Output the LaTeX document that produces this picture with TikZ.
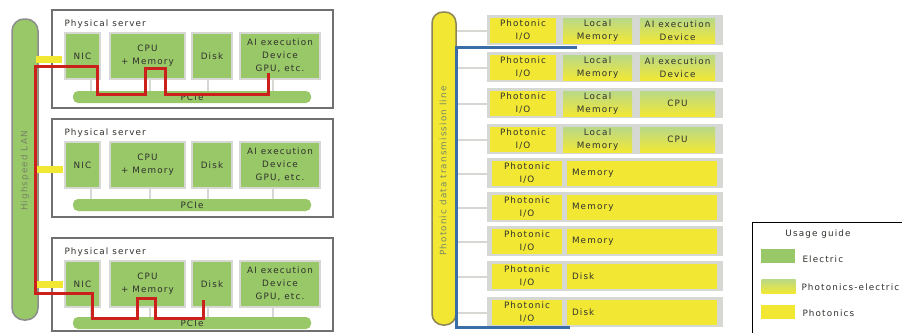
\documentclass[tikz,border=0pt]{standalone}
\usepackage{fontspec}
\newfontfamily\lblfont[LetterSpace=13]{DejaVu Sans}

\definecolor{elgreen}{RGB}{152,200,104}
\definecolor{phyellow}{RGB}{242,232,52}
\definecolor{pegreen}{RGB}{184,216,136}
\definecolor{srvframe}{RGB}{112,112,112}
\definecolor{cellgray}{RGB}{214,216,212}
\definecolor{wirered}{RGB}{204,32,28}
\definecolor{wireblue}{RGB}{58,108,168}
\definecolor{txt}{RGB}{48,48,44}
\definecolor{pilltxt}{RGB}{120,132,100}
\definecolor{pillolive}{RGB}{140,132,84}

\tikzset{
  srvbox/.style={draw=srvframe, line width=2.5pt, fill=white},
  compbox/.style={fill=elgreen, draw=cellgray, line width=2pt, align=center,
    inner sep=0pt, minimum height=46pt},
  pciebar/.style={fill=elgreen, rounded corners=5pt, minimum height=12pt,
    minimum width=238pt, inner sep=0pt},
  stub/.style={draw=cellgray, line width=2pt},
  lanlink/.style={fill=phyellow, draw=none, minimum width=26pt,
    minimum height=7pt, inner sep=0pt},
  redwire/.style={draw=wirered, line width=3pt},
  bluewire/.style={draw=wireblue, line width=3pt},
  rowbg/.style={fill=cellgray, minimum width=236pt, minimum height=30pt, inner sep=0pt},
  phcell/.style={fill=phyellow, minimum height=25pt, inner sep=0pt, align=center},
  pecell/.style={top color=pegreen, bottom color=phyellow, minimum height=25pt,
    inner sep=0pt, align=center},
  swatch/.style={minimum width=34pt, minimum height=14pt, inner sep=0pt},
}

% one physical server: #1 suffix, #2 top edge, #3 bottom edge, #4 PCIe centre
\newcommand\physserver[4]{%
  \draw[srvbox] (52,#2) rectangle (333,#3);
  \node[anchor=west] (title#1) at (61,{#2+14}) {Physical server};
  \node[compbox, minimum width=35pt] (nic#1) at (82.5,{#2+46}) {NIC};
  \node[compbox, minimum width=75pt] (cpu#1) at (147.5,{#2+46}) {CPU\\+ Memory};
  \node[compbox, minimum width=40pt] (disk#1) at (212,{#2+46}) {Disk};
  \node[compbox, minimum width=80pt] (ai#1) at (280,{#2+46}) {AI execution\\Device\\GPU, etc.};
  \node[pciebar] (pcie#1) at (192,#4) {PCIe};
  \draw[stub] ([xshift=8pt]nic#1.south) -- ([xshift=8pt]nic#1.south |- pcie#1.north);
  \draw[stub] ([xshift=2pt]cpu#1.south) -- ([xshift=2pt]cpu#1.south |- pcie#1.north);
  \draw[stub] ([xshift=-4pt]disk#1.south) -- ([xshift=-4pt]disk#1.south |- pcie#1.north);
  \draw[stub] ([xshift=-7pt]ai#1.south) -- ([xshift=-7pt]ai#1.south |- pcie#1.north);
}

% module row with a local memory and a processing unit: #1 index, #2 top, #3, #4 texts
\newcommand\mixrow[4]{%
  \node[rowbg] (row#1) at (605,{#2+15}) {};
  \node[phcell, minimum width=66pt] (pio#1) at (523,{#2+15.5}) {Photonic\\I/O};
  \node[pecell, minimum width=69pt] (mid#1) at (597.5,{#2+15.5}) {#3};
  \node[pecell, minimum width=75pt] (dev#1) at (677.5,{#2+15.5}) {#4};
  \draw[stub] ([yshift=-1pt]row#1.west) -- ([yshift=-1pt]row#1.west -| ptl.east);
}
% pooled resource row: #1 index, #2 top, #3 text
\newcommand\plainrow[3]{%
  \node[rowbg] (row#1) at (605,{#2+15}) {};
  \node[phcell, minimum width=70pt] (pio#1) at (527,{#2+15.5}) {Photonic\\I/O};
  \node[phcell, minimum width=150pt, text width=140pt, align=left] (dev#1) at (642,{#2+15.5}) {#3};
  \draw[stub] ([yshift=-1pt]row#1.west) -- ([yshift=-1pt]row#1.west -| ptl.east);
}

\begin{document}
\begin{tikzpicture}[x=1pt, y=-1pt, font=\lblfont\fontsize{8.8}{13}\selectfont, text=txt]
\useasboundingbox (0,0) rectangle (902,332);
\clip (0,0) rectangle (902,332);
\fill[white] (0,0) rectangle (902,332);

% ---------- conventional servers on a LAN ----------
\node[fill=elgreen, draw=srvframe!80, line width=1.5pt, rounded corners=12pt,
  minimum width=26pt, minimum height=301pt, inner sep=0pt] (lan) at (25,169.5) {};
\node[rotate=90, text=pilltxt] (lantext) at (25,171) {Highspeed LAN};

\physserver{1}{10}{108}{97}
\physserver{2}{119}{217}{205}
\physserver{3}{238}{331}{323}

\node[lanlink] (link1) at (49,59) {};
\node[lanlink] (link2) at (50,169) {};
\node[lanlink] (link3) at (50,284) {};

% data path through the first and third server
\coordinate (redA) at (268,73);
\coordinate (redB) at (203,300);
\draw[redwire] (redA) -- (268,94) -- (165,94) -- (165,68) -- (145,68) -- (145,94)
  -- (97,94) -- (97,66) -- (35,66) -- (35,293) -- (92,293) -- (92,318)
  -- (137,318) -- (137,298) -- (155,298) -- (155,318) -- (203,318) -- (redB);

% ---------- disaggregated photonic system ----------
\node[fill=phyellow, draw=pillolive, line width=1.5pt, rounded corners=11pt,
  minimum width=24pt, minimum height=313pt, inner sep=0pt] (ptl) at (444,168.5) {};
\node[rotate=90, text=pilltxt] (ptltext) at (443,171) {Photonic data transmission line};

\mixrow{1}{15}{Local\\Memory}{AI execution\\Device}
\mixrow{2}{52}{Local\\Memory}{AI execution\\Device}
\mixrow{3}{88}{Local\\Memory}{CPU}
\mixrow{4}{124}{Local\\Memory}{CPU}
\plainrow{5}{158}{Memory}
\plainrow{6}{192}{Memory}
\plainrow{7}{226}{Memory}
\plainrow{8}{261}{Disk}
\plainrow{9}{297}{Disk}

\coordinate (blueA) at (577,47);
\coordinate (blueB) at (570,327);
\draw[bluewire] (blueA) -- (blueA -| ptl.east) |- (blueB);

% ---------- legend ----------
\draw[black, line width=0.8pt] (752,222) rectangle (910,345);
\node (lgtitle) at (818,234) {Usage guide};
\node[swatch, fill=elgreen] (swE) at (777.5,255.5) {};
\node[anchor=west] (lgE) at (799,259) {Electric};
\node[swatch, top color=pegreen, bottom color=phyellow] (swPE) at (778.5,286) {};
\node[anchor=west] (lgPE) at (798,287) {Photonics-electric};
\node[swatch, fill=phyellow] (swP) at (777.5,311.5) {};
\node[anchor=west] (lgP) at (799,313) {Photonics};
\end{tikzpicture}
\end{document}
